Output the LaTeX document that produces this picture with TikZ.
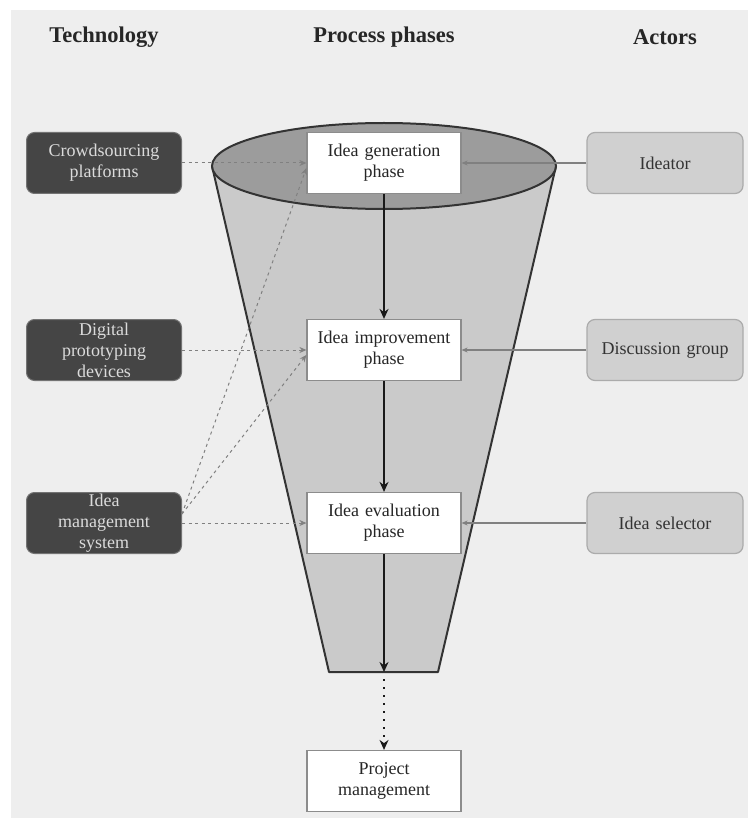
\documentclass[tikz,border=0pt]{standalone}
\usepackage{fontspec}
\setmainfont{Liberation Serif}
\usetikzlibrary{arrows.meta,calc}
\definecolor{bgcol}{HTML}{EEEEEE}
\definecolor{funneltop}{HTML}{9C9C9C}
\definecolor{funnelbody}{HTML}{CACACA}
\definecolor{techfill}{HTML}{454545}
\definecolor{actorfill}{HTML}{D0D0D0}
\begin{document}
\begin{tikzpicture}[x=1pt,y=-1pt,
  every node/.style={font=\fontsize{18}{21}\selectfont},
  header/.style={font=\fontsize{22.5}{26}\selectfont\bfseries, text=black!85},
  phasebox/.style={draw=black!45, line width=1.2pt, fill=white, text=black!85,
    minimum width=154pt, minimum height=61pt, inner sep=0pt, text width=152pt, align=center},
  techbox/.style={draw=black!55, line width=1pt, fill=techfill, rounded corners=8pt, text=black!14,
    minimum width=155pt, minimum height=61pt, inner sep=0pt, text width=152pt, align=center},
  actorbox/.style={draw=black!33, line width=1.2pt, fill=actorfill, rounded corners=8pt, text=black!80,
    minimum width=156pt, minimum height=61pt, inner sep=0pt, text width=152pt, align=center},
  techlink/.style={draw=black!50, line width=1pt, dash pattern=on 3pt off 3.5pt,
    -{Stealth[length=7pt,width=6pt]}},
  actorlink/.style={draw=black!50, line width=1.2pt, -{Stealth[length=6pt,width=5pt]}},
  flow/.style={draw=black!90, line width=1.8pt, -{Stealth[length=10pt,width=9pt]}},
  dottedflow/.style={draw=black!90, line width=1.8pt, dash pattern=on 2pt off 6pt,
    -{Stealth[length=10pt,width=9pt]}}
]
\useasboundingbox (0,0) rectangle (748,818);
% page background
\fill[white] (0,0) rectangle (748,818);
\fill[bgcol] (11,10) rectangle (748,818);

% column headings
\node[header] (hTech) at (104,37) {Technology};
\node[header] (hProc) at (384,37) {Process phases};
\node[header] (hAct)  at (665,37) {Actors};

% funnel
\coordinate (fbl) at (329,672);
\coordinate (fbr) at (438,672);
\coordinate (fbottom) at (384,672);
\filldraw[fill=funnelbody, draw=black!80, line width=2pt, line join=round]
  (212,166) -- (fbl) -- (fbr) -- (556,166) -- cycle;
\filldraw[fill=funneltop, draw=black!80, line width=2pt]
  (384,166) ellipse [x radius=172, y radius=43];

% process phases
\node[phasebox] (gen)  at (384,163) {Idea generation\\phase};
\node[phasebox] (imp)  at (384,350) {Idea improvement\\phase};
\node[phasebox] (eval) at (384,523) {Idea evaluation\\phase};
\node[phasebox] (pm)   at (384,781) {Project\\management};

% technology
\node[techbox] (crowd) at (104,163) {Crowdsourcing\\platforms};
\node[techbox] (proto) at (104,350) {Digital\\prototyping\\devices};
\node[techbox] (ims)   at (104,523) {Idea\\management\\system};

% actors
\node[actorbox] (ideator)  at (665,163) {Ideator};
\node[actorbox] (discuss)  at (665,350) {Discussion group};
\node[actorbox] (selector) at (665,523) {Idea selector};

% phase sequence
\draw[flow] (gen.south) -- (imp.north);
\draw[flow] (imp.south) -- (eval.north);
\draw[flow] (eval.south) -- (fbottom);
\draw[dottedflow] ([yshift=-7pt]fbottom) -- (pm.north);

% technology support
\draw[techlink] (crowd.east) -- (gen.west);
\draw[techlink] (proto.east) -- (imp.west);
\draw[techlink] (ims.east) -- (eval.west);
\draw[techlink] ([yshift=9pt]ims.east) -- ([yshift=-5pt]gen.west);
\draw[techlink] ([yshift=9pt]ims.east) -- ([yshift=-5pt]imp.west);

% actor involvement
\draw[actorlink] (ideator.west) -- (gen.east);
\draw[actorlink] (discuss.west) -- (imp.east);
\draw[actorlink] (selector.west) -- (eval.east);
\end{tikzpicture}
\end{document}
